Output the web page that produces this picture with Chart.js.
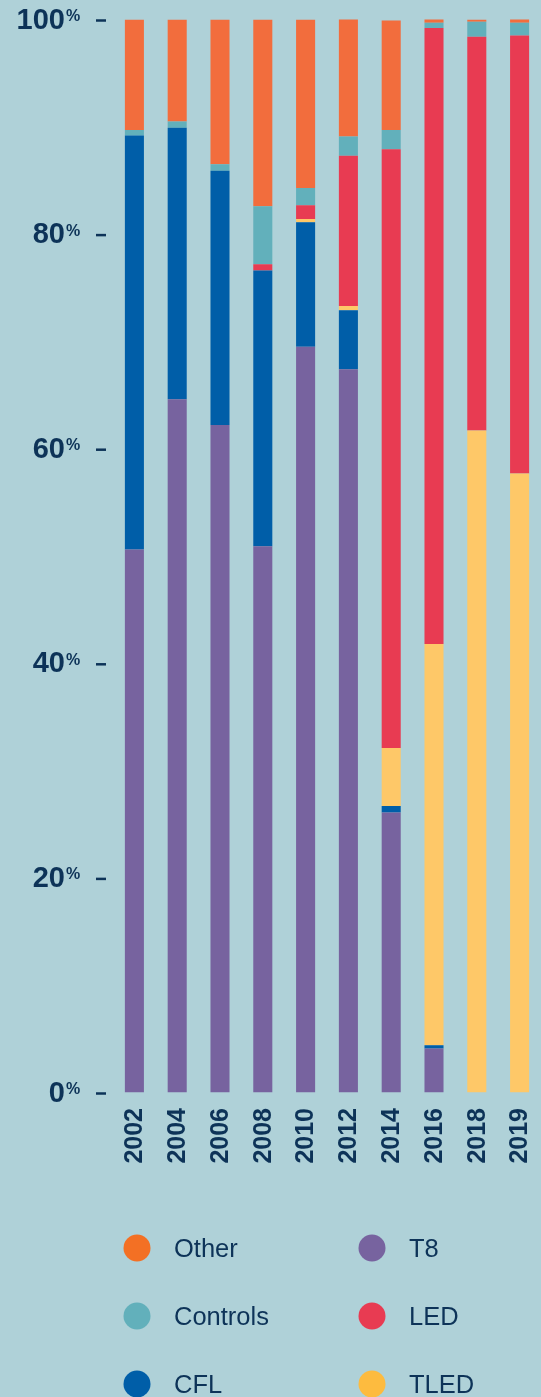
<!DOCTYPE html>
<html>
<head>
<meta charset="utf-8">
<script src="https://cdn.jsdelivr.net/npm/chart.js@4/dist/chart.umd.min.js"></script>
<style>
  html, body { margin: 0; padding: 0; background: #afd1d8; }
  canvas { display: block; }
</style>
</head>
<body>
<canvas id="c" width="541" height="1397"></canvas>
<script>
// ---- Data ----
const years = ['2002','2004','2006','2008','2010','2012','2014','2016','2018','2019'];
const t8       = [50.6, 64.6, 62.2, 50.9, 69.5, 67.4, 26.1,  4.1,  0.0,  0.0];
const cfl      = [38.6, 25.3, 23.7, 25.7, 11.6,  5.5,  0.6,  0.3,  0.0,  0.0];
const tled     = [ 0.0,  0.0,  0.0,  0.0,  0.3,  0.4,  5.4, 37.4, 61.7, 57.7];
const led      = [ 0.0,  0.0,  0.0,  0.6,  1.3, 14.0, 55.8, 57.4, 36.7, 40.8];
const controls = [ 0.5,  0.6,  0.6,  5.4,  1.6,  1.8,  1.8,  0.5,  1.4,  1.2];
const other    = [10.3,  9.5, 13.5, 17.4, 15.7, 11.0, 10.2,  0.4,  0.2,  0.4];
const yTicks   = [0, 20, 40, 60, 80, 100];
const legendOrder = ['Other', 'T8', 'Controls', 'LED', 'CFL', 'TLED'];

// ---- Styles ----
const TEXT = '#0d3358';
const barColors = {
  T8: '#77639f', CFL: '#005ea8', TLED: '#fec868',
  LED: '#e83b52', Controls: '#62b0bb', Other: '#f26d3d'
};
const legendColors = {
  T8: '#77639f', CFL: '#005ea8', TLED: '#fdbb3f',
  LED: '#e83b52', Controls: '#62b0bb', Other: '#f37024'
};

const mk = (label, data) => ({
  label, data,
  backgroundColor: barColors[label],
  borderWidth: 0,
  barPercentage: 0.445,
  categoryPercentage: 1.0
});

const labelsPlugin = {
  id: 'customLabels',
  afterDraw(chart) {
    const ctx = chart.ctx;
    const y = chart.scales.y;
    const x = chart.scales.x;
    ctx.save();
    ctx.fillStyle = TEXT;
    ctx.strokeStyle = TEXT;
    // Y axis labels
    yTicks.forEach(v => {
      const py = y.getPixelForValue(v);
      ctx.font = 'bold 29px "Liberation Sans", Arial, sans-serif';
      ctx.textAlign = 'right';
      ctx.textBaseline = 'middle';
      ctx.fillText(String(v), 65, py + 1);
      ctx.font = 'bold 16px "Liberation Sans", Arial, sans-serif';
      ctx.textAlign = 'left';
      ctx.textBaseline = 'top';
      ctx.fillText('%', 66, py - 11);
      ctx.lineWidth = 2.5;
      ctx.beginPath();
      ctx.moveTo(96, py + 1);
      ctx.lineTo(106, py + 1);
      ctx.stroke();
    });
    // X axis labels (rotated)
    ctx.font = 'bold 25px "Liberation Sans", Arial, sans-serif';
    years.forEach((yr, i) => {
      const px = x.getPixelForValue(i);
      ctx.save();
      ctx.translate(px + 1, 1108);
      ctx.rotate(-Math.PI / 2);
      ctx.textAlign = 'right';
      ctx.textBaseline = 'middle';
      ctx.fillText(yr, 0, 0);
      ctx.restore();
    });
    // Legend (two columns)
    ctx.font = '25.5px "Liberation Sans", Arial, sans-serif';
    ctx.textAlign = 'left';
    ctx.textBaseline = 'middle';
    legendOrder.forEach((name, i) => {
      const col = i % 2, row = Math.floor(i / 2);
      const cx = col === 0 ? 137 : 372;
      const cy = 1248 + row * 68;
      ctx.fillStyle = legendColors[name];
      ctx.beginPath();
      ctx.arc(cx, cy, 13.5, 0, Math.PI * 2);
      ctx.fill();
      ctx.fillStyle = TEXT;
      ctx.fillText(name, cx + 37, cy + 1.5);
    });
    ctx.restore();
  }
};

new Chart(document.getElementById('c'), {
  type: 'bar',
  data: {
    labels: years,
    datasets: [
      mk('T8', t8), mk('CFL', cfl), mk('TLED', tled),
      mk('LED', led), mk('Controls', controls), mk('Other', other)
    ]
  },
  options: {
    responsive: false,
    animation: false,
    layout: { padding: { left: 113, right: 0, top: 19.5, bottom: 304.5 } },
    plugins: { legend: { display: false }, tooltip: { enabled: false } },
    scales: {
      x: { stacked: true, display: false },
      y: { stacked: true, display: false, min: 0, max: 100 }
    }
  },
  plugins: [labelsPlugin]
});
</script>
</body>
</html>
